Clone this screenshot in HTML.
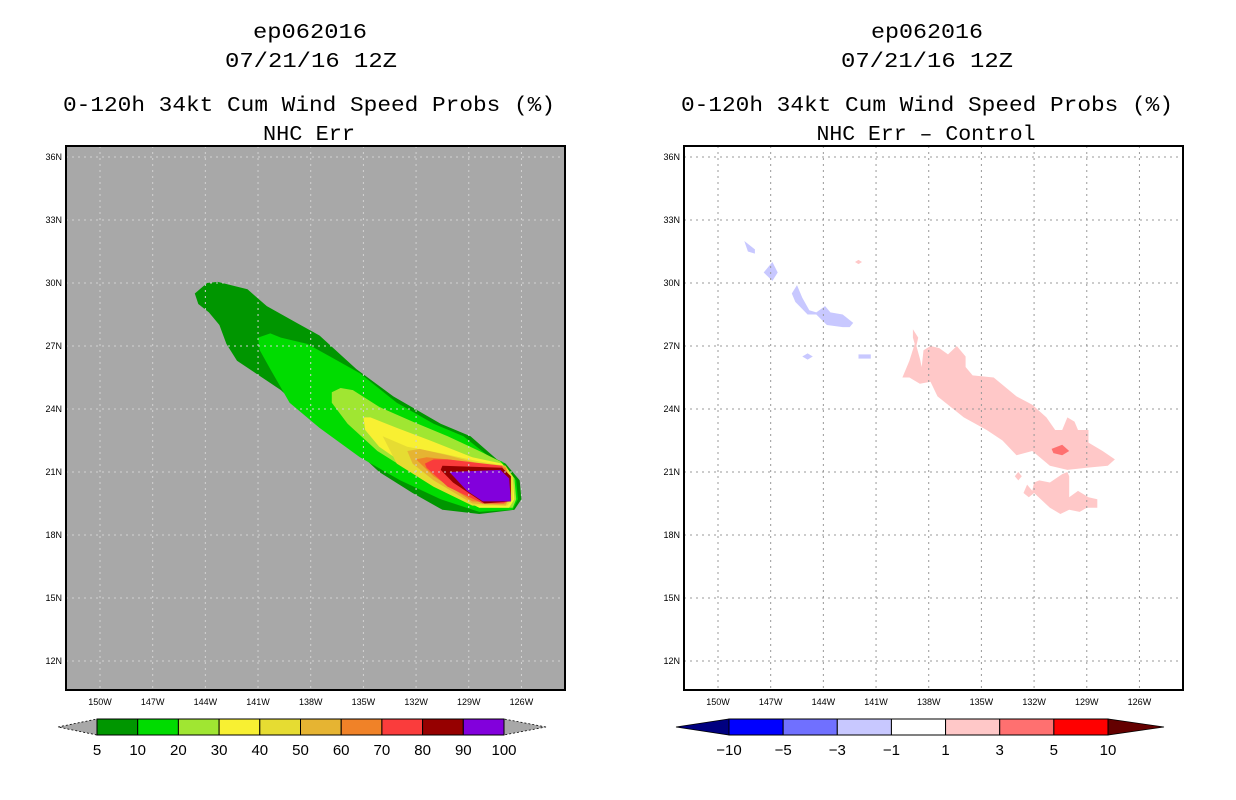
<!DOCTYPE html>
<html><head><meta charset="utf-8"><style>
html,body{margin:0;padding:0;background:#fff;}
svg{display:block;font-family:"Liberation Mono",monospace;}
</style></head><body>
<svg id="chart" width="1236" height="800" viewBox="0 0 1236 800" xmlns="http://www.w3.org/2000/svg">
<g font-size="21" text-anchor="middle" fill="#000">
<text x="310" y="38" textLength="114" lengthAdjust="spacingAndGlyphs">ep062016</text>
<text x="311" y="67" textLength="172" lengthAdjust="spacingAndGlyphs">07/21/16 12Z</text>
<text x="309" y="111" textLength="492" lengthAdjust="spacingAndGlyphs">0-120h 34kt Cum Wind Speed Probs (%)</text>
<text x="309" y="140" textLength="92" lengthAdjust="spacingAndGlyphs">NHC Err</text>
</g>
<g font-size="21" text-anchor="middle" fill="#000">
<text x="927" y="38" textLength="112" lengthAdjust="spacingAndGlyphs">ep062016</text>
<text x="927" y="67" textLength="172" lengthAdjust="spacingAndGlyphs">07/21/16 12Z</text>
<text x="927" y="111" textLength="492" lengthAdjust="spacingAndGlyphs">0-120h 34kt Cum Wind Speed Probs (%)</text>
<text x="926" y="140" textLength="219" lengthAdjust="spacingAndGlyphs">NHC Err – Control</text>
</g>
<g id="left-panel"></g>
<g id="right-panel"></g>
<g id="left-cbar"></g>
<g id="right-cbar"></g>
</svg>
<script>
const latTicks = [36,33,30,27,24,21,18,15,12];
const lonTicks = [150,147,144,141,138,135,132,129,126];
const probLevels = [5,10,20,30,40,50,60,70,80,90,100];
const probColors = ["#009600","#00dc00","#a0e632","#f8f032","#e6dc32","#e6b432","#f08228","#fa3c3c","#960000","#8200dc"];
const diffLevels = ["−10","−5","−3","−1","1","3","5","10"];
const diffColors = ["#0000ff","#7070ff","#c8c8ff","#ffffff","#ffc8c8","#ff7070","#ff0000"];
// contours: [lonW, lat]
const prob5 = [[144.6,29.5],[143.9,30.0],[143.3,30.05],[141.6,29.7],[140.5,28.9],[138.8,28.1],[137.5,27.5],[135.4,25.9],[133.3,24.6],[130.6,23.3],[128.9,22.7],[127.4,21.6],[126.9,21.4],[126.1,20.6],[126.0,19.7],[126.4,19.2],[128.4,19.0],[130.5,19.2],[132.2,20.0],[134.1,21.0],[135.9,22.4],[137.9,23.5],[139.7,24.9],[142.2,26.3],[142.8,27.1],[143.2,28.0],[143.8,28.6],[144.4,29.0]];
const prob10 = [[141.0,27.4],[140.3,27.6],[139.7,27.4],[138.2,27.1],[136.9,26.5],[135.2,25.7],[133.1,24.3],[131.0,23.3],[129.3,22.7],[127.8,21.7],[127.1,21.5],[126.3,20.6],[126.2,19.7],[126.5,19.2],[128.4,19.1],[130.6,19.7],[132.9,20.6],[135.2,21.7],[137.5,23.1],[139.2,24.3],[140.3,25.9],[140.9,26.8]];
const prob20 = [[136.8,24.8],[136.3,25.0],[135.6,24.9],[134.1,24.1],[132.2,23.4],[130.2,22.7],[128.4,22.0],[127.2,21.5],[126.4,20.7],[126.3,19.7],[126.5,19.3],[128.4,19.3],[130.2,20.0],[132.3,21.0],[134.2,22.0],[135.9,23.3],[136.8,24.3]];
const prob30 = [[135.0,23.6],[134.6,23.6],[133.1,23.1],[131.2,22.5],[128.8,21.7],[127.1,21.4],[126.5,20.8],[126.4,19.7],[126.7,19.3],[128.4,19.3],[130.2,20.1],[132.2,21.1],[134.1,22.2],[134.9,23.0]];
const prob40 = [[133.9,22.7],[132.5,22.2],[130.6,21.9],[128.4,21.5],[126.9,21.3],[126.5,20.8],[126.5,19.7],[126.8,19.4],[128.8,19.4],[131.0,20.3],[133.1,21.4]];
const prob50 = [[132.5,22.0],[131.8,22.1],[130.2,21.8],[128.4,21.4],[126.9,21.3],[126.7,20.8],[126.7,19.7],[126.9,19.4],[128.8,19.5],[131.0,20.6],[132.2,21.4]];
const prob60 = [[132.0,21.6],[131.4,21.7],[130.2,21.6],[128.4,21.4],[126.9,21.2],[126.7,20.7],[126.7,19.7],[126.9,19.5],[128.8,19.6],[131.0,20.8]];
const prob70 = [[131.5,21.4],[131.0,21.6],[130.2,21.6],[127.1,21.3],[126.8,20.7],[126.8,19.7],[127.0,19.5],[128.2,19.5],[130.2,20.3],[131.4,21.2]];
const prob80 = [[130.6,21.1],[130.5,21.3],[127.1,21.2],[126.6,20.8],[126.6,19.6],[128.1,19.5],[129.9,20.5]];
const prob90 = [[130.1,21.0],[127.2,21.1],[126.7,20.7],[126.6,19.6],[128.2,19.6],[129.1,20.1]];
const probContours = [prob5,prob10,prob20,prob30,prob40,prob50,prob60,prob70,prob80,prob90];
const diffPos1Main = [[139.5,25.5],[139.1,26.3],[138.8,27.1],[138.9,27.4],[138.9,27.8],[138.6,27.4],[138.7,27.0],[138.5,26.4],[138.4,26.0],[138.3,26.8],[137.9,27.0],[137.4,26.9],[136.9,26.6],[136.4,27.0],[135.9,26.5],[135.9,26.0],[135.5,25.6],[134.3,25.5],[133.0,24.6],[132.1,24.2],[131.3,23.6],[130.8,23.0],[130.4,23.0],[130.1,23.6],[129.7,23.4],[129.5,23.0],[128.9,23.0],[128.9,22.4],[128.1,22.0],[127.4,21.6],[127.8,21.3],[129.0,21.2],[130.1,21.1],[131.1,21.3],[132.1,22.0],[133.0,21.8],[133.8,22.5],[134.7,23.0],[136.0,23.6],[137.5,24.6],[137.9,25.3],[138.5,25.2],[139.1,25.5]];
const diffPos1South = [[132.0,20.5],[131.7,20.6],[131.1,20.5],[130.4,20.9],[130.1,21.0],[130.0,20.8],[130.0,19.8],[129.5,20.1],[128.9,19.8],[128.4,19.7],[128.4,19.3],[129.0,19.3],[129.4,19.1],[130.0,19.2],[130.5,19.0],[131.1,19.3],[132.0,20.0],[132.3,19.8],[132.6,20.0],[132.4,20.4],[132.1,20.1]];
const diffPos1Small = [[133.1,20.8],[132.9,21.0],[132.7,20.8],[132.9,20.6]];
const diffPos1Tiny = [[142.2,31.0],[142.0,31.1],[141.8,31.0],[142.0,30.9]];
const diffPos3 = [[131.0,22.1],[130.4,22.3],[130.0,22.0],[130.4,21.8],[130.9,21.9]];
const diffNegA = [[148.5,32.0],[147.9,31.6],[147.9,31.4],[148.3,31.5]];
const diffNegB = [[146.9,31.0],[146.6,30.5],[146.9,30.1],[147.4,30.5]];
const diffNegC = [[145.5,29.9],[145.2,29.3],[144.8,28.7],[144.4,28.6],[143.9,28.9],[143.6,28.6],[142.9,28.5],[142.3,28.1],[142.5,27.9],[142.9,27.9],[143.8,28.0],[144.4,28.5],[144.9,28.5],[145.6,29.1],[145.8,29.5]];
const diffNegD = [[145.2,26.5],[144.9,26.65],[144.6,26.5],[144.9,26.35]];
const diffNegE = [[142.0,26.6],[141.3,26.6],[141.3,26.4],[142.0,26.4]];

const NS="http://www.w3.org/2000/svg";
function mk(tag, attrs, parent){const e=document.createElementNS(NS,tag);for(const k in attrs)e.setAttribute(k,attrs[k]);parent.appendChild(e);return e;}
function panel(x0){
  const left=x0, right=x0+499, top=146, bottom=690;
  const xOf=lonW=>x0+34+(150-lonW)*17.56;
  const yOf=lat=>472-(lat-21)*21;
  return {left,right,top,bottom,xOf,yOf};
}
const P1=panel(66), P2=panel(684);
function pts(P,arr){return arr.map(p=>P.xOf(p[0]).toFixed(1)+","+P.yOf(p[1]).toFixed(1)).join(" ");}
function drawFrame(P,g,bg,gridColor){
  const r=mk('rect',{x:P.left,y:P.top,width:P.right-P.left,height:P.bottom-P.top,fill:bg},g);
  
  
}
function drawGrid(P,g,gridColor){
  const gg=mk('g',{},g);
  
  
  latTicks.forEach(t=>{const y=P.yOf(t);mk('line',{x1:P.left,x2:P.right,y1:y,y2:y,stroke:gridColor,'stroke-width':1,'stroke-dasharray':'2,4'},gg);});
  lonTicks.forEach(t=>{const x=P.xOf(t);mk('line',{x1:x,x2:x,y1:P.top,y2:P.bottom,stroke:gridColor,'stroke-width':1,'stroke-dasharray':'2,4'},gg);});
  const b=mk('rect',{x:P.left,y:P.top,width:P.right-P.left,height:P.bottom-P.top,fill:'none',stroke:'#000','stroke-width':2},g);
  
  
  const yl=mk('g',{'font-size':9,'font-family':'Liberation Sans, sans-serif','text-anchor':'end'},g);
  
  
  latTicks.forEach(t=>{const tx=mk('text',{x:P.left-4,y:P.yOf(t)+3},yl);tx.textContent=t+"N";});
  const xl=mk('g',{'font-size':9,'font-family':'Liberation Sans, sans-serif','text-anchor':'middle'},g);
  
  
  lonTicks.forEach(t=>{const tx=mk('text',{x:P.xOf(t),y:P.bottom+15},xl);tx.textContent=t+"W";});
}
// left
const gL=document.getElementById('left-panel');
drawFrame(P1,gL,'#a8a8a8');
probContours.forEach((c,i)=>{
  const p=mk('polygon',{points:pts(P1,c),fill:probColors[i]},gL);
  
  
});
drawGrid(P1,gL,'#d2d2d2');
// right
const gR=document.getElementById('right-panel');
drawFrame(P2,gR,'#ffffff');
[[diffPos1Main,4],[diffPos1South,4],[diffPos1Small,4],[diffPos1Tiny,4],[diffPos3,5],[diffNegA,2],[diffNegB,2],[diffNegC,2],[diffNegD,2],[diffNegE,2]].forEach((d,i)=>{
  const p=mk('polygon',{points:pts(P2,d[0]),fill:diffColors[d[1]]},gR);
  
  
});
drawGrid(P2,gR,'#999999');
// colorbars
function colorbar(g,x0,x1,colors,labels,lt,rt,ltx,rtx){
  const y0=719,y1=735,w=(x1-x0)/colors.length,ym=(y0+y1)/2;
  const l=mk('polygon',{points:`${ltx},${ym} ${x0},${y0} ${x0},${y1}`,fill:lt,stroke:'#000','stroke-width':0.8,'stroke-dasharray':lt==='#a8a8a8'?'2,2':'none'},g);
  
  
  const r=mk('polygon',{points:`${rtx},${ym} ${x1},${y0} ${x1},${y1}`,fill:rt,stroke:'#000','stroke-width':0.8,'stroke-dasharray':rt==='#a8a8a8'?'2,2':'none'},g);
  
  
  colors.forEach((c,i)=>{
    const b=mk('rect',{x:x0+i*w,y:y0,width:w,height:y1-y0,fill:c,stroke:'#000','stroke-width':1},g);
    
    
  });
  labels.forEach((t,i)=>{
    const tx=mk('text',{x:x0+i*w,y:755,'font-size':15,'text-anchor':'middle','font-family':'Liberation Sans, sans-serif'},g);
    
    
    tx.textContent=t;
  });
}
colorbar(document.getElementById('left-cbar'),97,504,probColors,probLevels,'#a8a8a8','#a8a8a8',58,546);
colorbar(document.getElementById('right-cbar'),729,1108,diffColors,diffLevels,'#000080','#640000',676,1164);
</script>
</body></html>
